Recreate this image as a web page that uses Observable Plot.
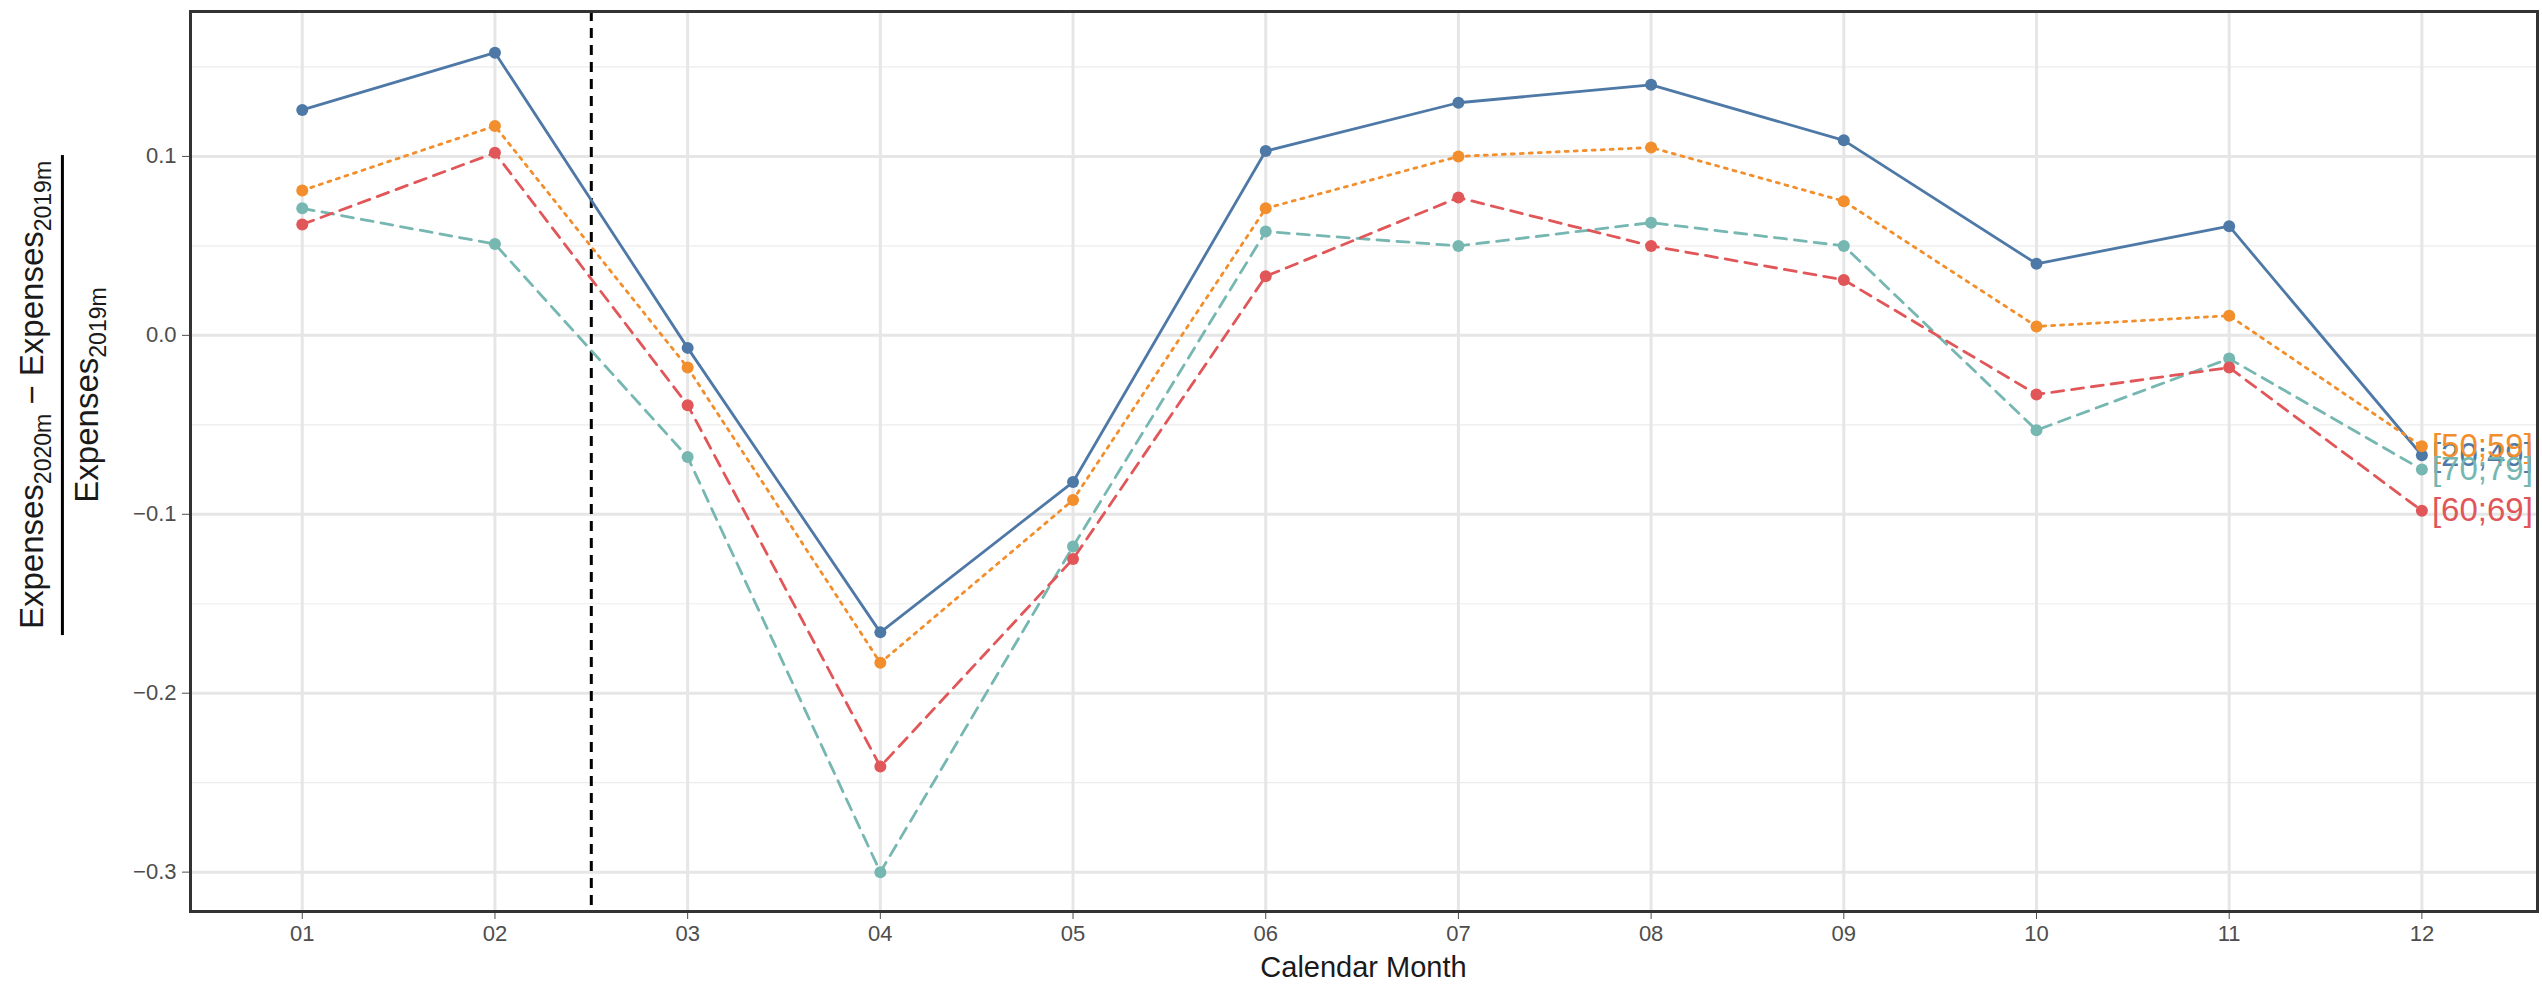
<!DOCTYPE html>
<html><head><meta charset="utf-8">
<script src="https://cdn.jsdelivr.net/npm/d3@7"></script>
<script src="https://cdn.jsdelivr.net/npm/@observablehq/plot@0.6"></script>
<style>
body{margin:0;background:#fff;font-family:"Liberation Sans",Arial,sans-serif}
#wrap{position:relative;width:2542px;height:989px;overflow:hidden}
#ylab{position:absolute;left:62px;top:395px;transform:translate(-50%,-50%) rotate(-90deg);font-size:33px;color:#1a1a1a;text-align:center;white-space:nowrap}
#ylab sub{font-size:23px}
#ylab .num{border-bottom:3px solid #000;padding:0 6px 4px}
#ylab .den{padding-top:4px}
</style></head><body>
<div id="wrap"><div id="chart"></div>
<div id="ylab"><div class="num">Expenses<sub>2020m</sub> − Expenses<sub>2019m</sub></div><div class="den">Expenses<sub>2019m</sub></div></div></div>
<script>
const months = [1,2,3,4,5,6,7,8,9,10,11,12]
const groups = ["[20;49]","[50;59]","[70;79]","[60;69]"]
const colors = ["#4e79a7","#f28e2b","#76b7b2","#e15759"]
const dashes = ["none","3,6","12,8","12,8"]
const v2049 = [0.126,0.158,-0.007,-0.166,-0.082,0.103,0.130,0.140,0.109,0.040,0.061,-0.067]
const v5059 = [0.081,0.117,-0.018,-0.183,-0.092,0.071,0.100,0.105,0.075,0.005,0.011,-0.062]
const v7079 = [0.071,0.051,-0.068,-0.300,-0.118,0.058,0.050,0.063,0.050,-0.053,-0.013,-0.075]
const v6069 = [0.062,0.102,-0.039,-0.241,-0.125,0.033,0.077,0.050,0.031,-0.033,-0.018,-0.098]
const series = [v2049,v5059,v7079,v6069]
const yTicks = [0.1,0,-0.1,-0.2,-0.3]
const yMinor = [0.15,0.05,-0.05,-0.15,-0.25]

const data = series.flatMap((s,i)=>s.map((v,j)=>({m:months[j],v,g:groups[i]})))
const marks = [
  Plot.ruleY(yMinor,{stroke:"#ececec",strokeWidth:1.2}),
  Plot.ruleY(yTicks,{stroke:"#e6e6e6",strokeWidth:3}),
  Plot.ruleX(months,{stroke:"#e6e6e6",strokeWidth:3}),
  Plot.ruleX([2.5],{stroke:"#000",strokeWidth:3,strokeDasharray:"10,7"})
]
groups.forEach((g,i)=>{
  const d = data.filter(r=>r.g===g)
  marks.push(Plot.line(d,{x:"m",y:"v",stroke:colors[i],strokeWidth:2.8,strokeDasharray:dashes[i]}))
  marks.push(Plot.dot(d,{x:"m",y:"v",fill:colors[i],r:6}))
  marks.push(Plot.text(d.slice(-1),{x:"m",y:"v",text:()=>g,fill:colors[i],textAnchor:"start",dx:10,fontSize:33}))
})
marks.push(Plot.frame({stroke:"#333",strokeWidth:3}))
const chart = Plot.plot({
  width:2542, height:989,
  marginLeft:190, marginRight:5, marginTop:11, marginBottom:78,
  style:{fontFamily:"Liberation Sans, Arial, sans-serif",fontSize:"22px",color:"#4d4d4d",overflow:"hidden"},
  x:{domain:[0.42,12.6],ticks:months,tickFormat:d=>String(d).padStart(2,"0"),tickSize:8,tickPadding:6,label:null},
  y:{domain:[-0.322,0.181],ticks:yTicks,tickFormat:d=>d.toFixed(1).replace("-","−"),tickSize:8,tickPadding:6,label:null},
  marks
})
d3.select(chart).append("text").attr("x",(190+2537)/2).attr("y",977).attr("text-anchor","middle")
  .attr("font-size","29px").attr("fill","#1a1a1a").text("Calendar Month")
d3.select('#chart').append(()=>chart)
</script></body></html>
